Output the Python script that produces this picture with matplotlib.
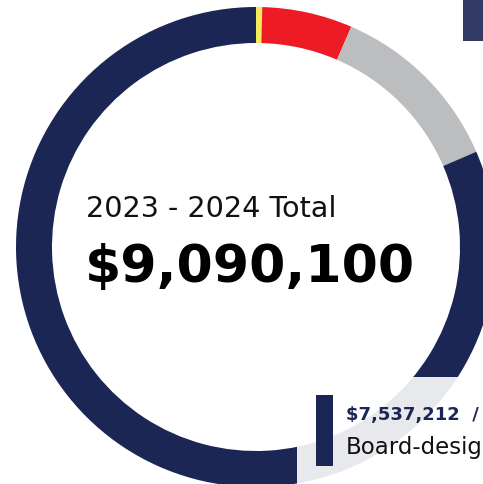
import matplotlib.pyplot as plt
from matplotlib.patches import Rectangle

# Datos (valores estimados de la imagen)
labels = ["Yellow", "Red", "Gray", "Board-designated"]
values = [38500, 562600, 1110000, 7537212]
colors = ["#f4ec5c", "#ed1c24", "#bcbdbf", "#1c2654"]

total_label = "2023 - 2024 Total"
total_value = "$9,090,100"
legend_value = "$7,537,212  /"
legend_name = "Board-designated"

W, H = 483, 485
NAVY = "#1c2654"

fig = plt.figure(figsize=(W / 100, H / 100), dpi=100)
ax = fig.add_axes([0, 0, 1, 1])

def fy(py):
    return H - py

ax.pie(values, colors=colors, startangle=90, counterclock=False,
       center=(256, fy(248)), radius=240,
       wedgeprops=dict(width=36, linewidth=0))

ax.set_xlim(0, W)
ax.set_ylim(0, H)
ax.set_aspect("equal")
ax.axis("off")

# Marcador arriba a la derecha
ax.add_patch(Rectangle((463, fy(42)), 40, 42, color="#343c66", lw=0))

# Caja semitransparente de la leyenda
ax.add_patch(Rectangle((297, 0), 200, fy(378), facecolor="white", alpha=0.9, lw=0, zorder=3))
ax.add_patch(Rectangle((316, fy(467)), 17, 71, color=NAVY, lw=0, zorder=4))

ax.text(86, fy(217), total_label, fontsize=20.6, family="DejaVu Sans", color="#111111",
        va="baseline", ha="left", zorder=5)
ax.text(85, fy(282), total_value, fontsize=37.5, family="DejaVu Sans", fontweight="bold",
        color="black", va="baseline", ha="left", zorder=5)

ax.text(346, fy(420), legend_value, fontsize=13, family="DejaVu Sans", fontweight="bold",
        color=NAVY, va="baseline", ha="left", zorder=5)
ax.text(346, fy(454), legend_name, fontsize=16.5, family="DejaVu Sans", color="#111111",
        va="baseline", ha="left", zorder=5)

fig.savefig("out.png", dpi=100)
